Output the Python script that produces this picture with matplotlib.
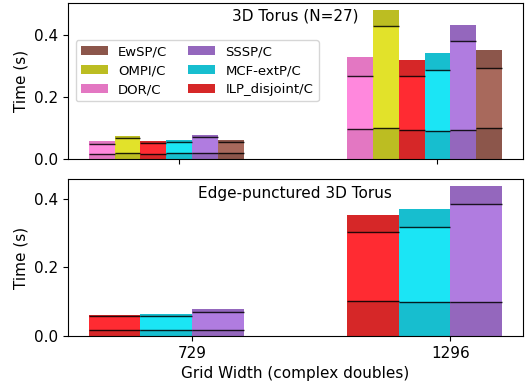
import matplotlib
matplotlib.use("Agg")
import matplotlib.pyplot as plt
import numpy as np

grid_widths = ["729", "1296"]

# Top panel: 3D Torus (N=27) -- order of bars left to right
top_methods = ["DOR/C", "OMPI/C", "ILP_disjoint/C", "MCF-extP/C", "SSSP/C", "EwSP/C"]
# boundaries: low line, mid line, total (per grid width)
top_low = {
    "DOR/C": [0.018, 0.097], "OMPI/C": [0.021, 0.099], "ILP_disjoint/C": [0.018, 0.095],
    "MCF-extP/C": [0.020, 0.091], "SSSP/C": [0.020, 0.094], "EwSP/C": [0.019, 0.101],
}
top_mid = {
    "DOR/C": [0.049, 0.269], "OMPI/C": [0.067, 0.428], "ILP_disjoint/C": [0.053, 0.266],
    "MCF-extP/C": [0.055, 0.288], "SSSP/C": [0.071, 0.379], "EwSP/C": [0.054, 0.292],
}
top_total = {
    "DOR/C": [0.059, 0.327], "OMPI/C": [0.075, 0.478], "ILP_disjoint/C": [0.059, 0.318],
    "MCF-extP/C": [0.062, 0.340], "SSSP/C": [0.078, 0.430], "EwSP/C": [0.062, 0.350],
}

# Bottom panel: Edge-punctured 3D Torus
bot_methods = ["ILP_disjoint/C", "MCF-extP/C", "SSSP/C"]
bot_low = {"ILP_disjoint/C": [0.018, 0.103], "MCF-extP/C": [0.018, 0.100], "SSSP/C": [0.019, 0.098]}
bot_mid = {"ILP_disjoint/C": [0.057, 0.303], "MCF-extP/C": [0.058, 0.318], "SSSP/C": [0.071, 0.385]}
bot_total = {"ILP_disjoint/C": [0.061, 0.352], "MCF-extP/C": [0.064, 0.370], "SSSP/C": [0.079, 0.437]}

base_colors = {
    "DOR/C": "#e377c2", "OMPI/C": "#bcbd22", "ILP_disjoint/C": "#d62728",
    "MCF-extP/C": "#17becf", "SSSP/C": "#9467bd", "EwSP/C": "#8c564b",
}
bright_colors = {
    "DOR/C": "#ff88dd", "OMPI/C": "#e2e22a", "ILP_disjoint/C": "#ff2b32",
    "MCF-extP/C": "#1be5f5", "SSSP/C": "#b07ce0", "EwSP/C": "#a8695c",
}
legend_order = ["EwSP/C", "OMPI/C", "DOR/C", "SSSP/C", "MCF-extP/C", "ILP_disjoint/C"]

fig = plt.figure(figsize=(5.28, 3.81), dpi=100)
ax1 = fig.add_axes([0.129, 0.582, 0.861, 0.411])
ax2 = fig.add_axes([0.129, 0.118, 0.861, 0.412])

x = np.arange(len(grid_widths))


def draw(ax, methods, low, mid, total, width):
    for i, m in enumerate(methods):
        lo = np.array(low[m]); md = np.array(mid[m]); tt = np.array(total[m])
        xs = x - 0.4 + i * width
        ax.bar(xs, lo, width, align="edge", color=base_colors[m], linewidth=0)
        ax.bar(xs, md - lo, width, bottom=lo, align="edge", color=bright_colors[m], linewidth=0)
        ax.bar(xs, tt - md, width, bottom=md, align="edge", color=base_colors[m], linewidth=0,
               label=m)
        for xi, l, mm in zip(xs, lo, md):
            ax.hlines([l, mm], xi, xi + width, colors="black", linewidth=1.0, alpha=0.85)


draw(ax1, top_methods, top_low, top_mid, top_total, 0.1)
draw(ax2, bot_methods, bot_low, bot_mid, bot_total, 0.2)

for ax in (ax1, ax2):
    ax.set_xlim(-0.48, 1.28)
    ax.set_ylabel("Time (s)", fontsize=11)
    ax.tick_params(labelsize=11)
    ax.set_yticks([0.0, 0.2, 0.4])

ax1.set_ylim(0, 0.503)
ax2.set_ylim(0, 0.457)
ax1.set_xticks(x - 0.05)
ax1.set_xticklabels([])
ax2.set_xticks(x)
ax2.set_xticklabels(grid_widths)
ax2.set_xlabel("Grid Width (complex doubles)", fontsize=11)

ax1.text(0.5, 0.915, "3D Torus (N=27)", transform=ax1.transAxes, ha="center", va="center",
         fontsize=11)
ax2.text(0.5, 0.91, "Edge-punctured 3D Torus", transform=ax2.transAxes, ha="center",
         va="center", fontsize=11)

handles, labels = ax1.get_legend_handles_labels()
hmap = dict(zip(labels, handles))
ax1.legend([hmap[m] for m in legend_order], legend_order, ncol=2, fontsize=9.5,
           loc="upper left", bbox_to_anchor=(0.017, 0.762), borderaxespad=0,
           handlelength=2.0, columnspacing=1.6, labelspacing=0.45)

fig.savefig("out.png", dpi=100)
